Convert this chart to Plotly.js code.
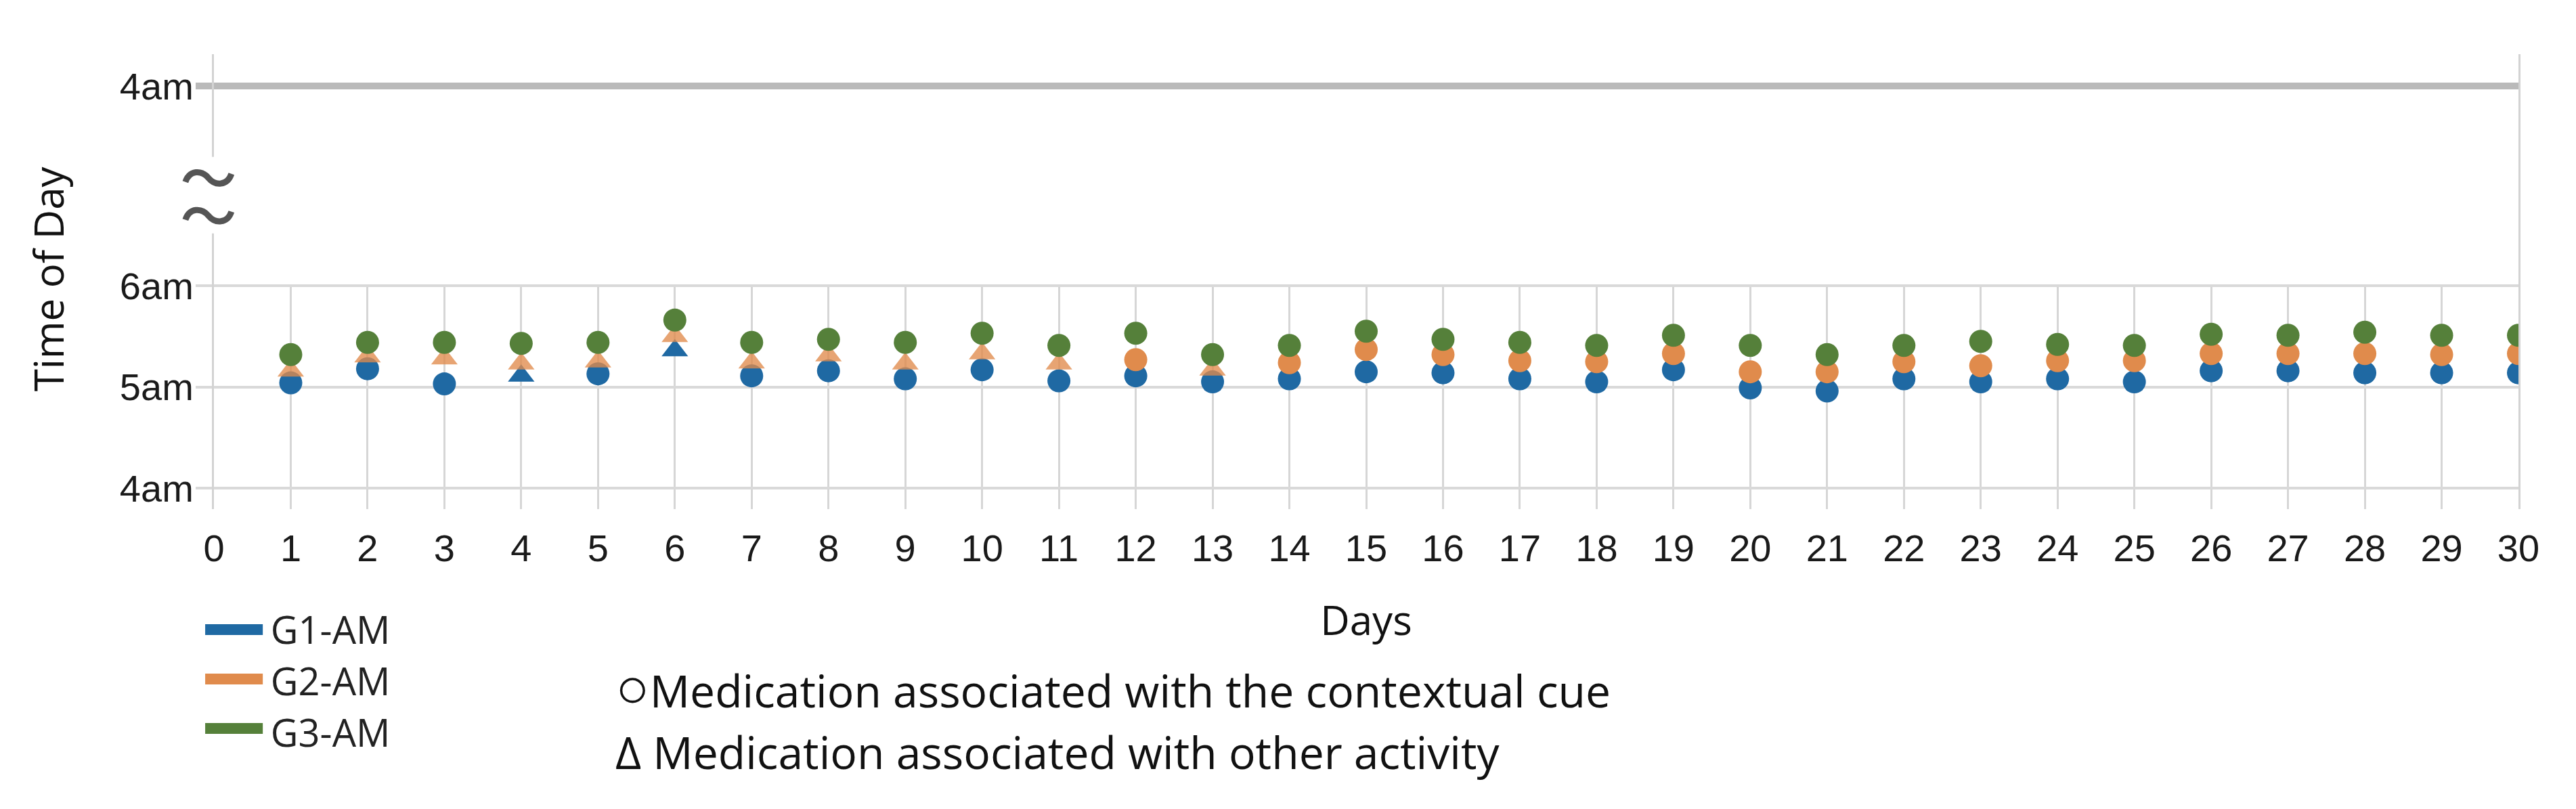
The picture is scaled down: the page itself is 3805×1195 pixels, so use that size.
<!DOCTYPE html>
<html>
<head>
<meta charset="utf-8">
<script src="https://cdn.plot.ly/plotly-3.0.1.min.js"></script>
<style>
  html, body { margin: 0; padding: 0; background: #ffffff; }
  #chart { width: 3805px; height: 1195px; }
</style>
</head>
<body>
<div id="chart"></div>
<script>
// ---- Data (time of day in decimal hours, 5.5 = 5:30am) ----
const days = [1,2,3,4,5,6,7,8,9,10,11,12,13,14,15,16,17,18,19,20,21,22,23,24,25,26,27,28,29,30];
const xTicks = [0,1,2,3,4,5,6,7,8,9,10,11,12,13,14,15,16,17,18,19,20,21,22,23,24,25,26,27,28,29,30];
const yTickVals = [4, 5, 6];
const yTickText = ['4am', '5am', '6am'];
const yTopTickVals = [8];
const yTopTickText = ['4am'];

const g1AM = [5.04,5.18,5.03,5.11,5.13,5.36,5.11,5.16,5.08,5.17,5.06,5.11,5.05,5.08,5.15,5.14,5.08,5.05,5.17,4.99,4.96,5.08,5.05,5.08,5.05,5.16,5.16,5.14,5.14,5.14];
const g2AM = [5.16,5.30,5.28,5.23,5.25,5.50,5.24,5.31,5.23,5.33,5.23,5.27,5.17,5.24,5.37,5.32,5.26,5.25,5.33,5.15,5.15,5.25,5.21,5.26,5.26,5.33,5.33,5.33,5.32,5.33];
const g3AM = [5.32,5.44,5.44,5.43,5.44,5.66,5.44,5.47,5.44,5.53,5.41,5.53,5.32,5.41,5.55,5.47,5.44,5.41,5.51,5.41,5.32,5.41,5.45,5.42,5.41,5.52,5.51,5.54,5.51,5.51];

// cue type per day: 'cue' = associated with the contextual cue, 'other' = associated with other activity
const g1Cue = ['cue','cue','cue','other','cue','other','cue','cue','cue','cue','cue','cue','cue','cue','cue','cue','cue','cue','cue','cue','cue','cue','cue','cue','cue','cue','cue','cue','cue','cue'];
const g2Cue = ['other','other','other','other','other','other','other','other','other','other','other','cue','other','cue','cue','cue','cue','cue','cue','cue','cue','cue','cue','cue','cue','cue','cue','cue','cue','cue'];
const g3Cue = ['cue','cue','cue','cue','cue','cue','cue','cue','cue','cue','cue','cue','cue','cue','cue','cue','cue','cue','cue','cue','cue','cue','cue','cue','cue','cue','cue','cue','cue','cue'];

const seriesNames = ['G1-AM', 'G2-AM', 'G3-AM'];
const seriesColors = ['#1f69a3', '#e08b4c', '#55803a'];

// ---- Build traces ----
const symbolFor = c => (c === 'other' ? 'triangle-up' : 'circle');
const seriesValues = [g1AM, g2AM, g3AM];
const seriesCues = [g1Cue, g2Cue, g3Cue];

const traces = [];
seriesValues.forEach((vals, i) => {
  traces.push({
    type: 'scatter', mode: 'markers',
    x: days, y: vals, xaxis: 'x', yaxis: 'y',
    name: seriesNames[i], showlegend: false,
    marker: {
      color: seriesColors[i],
      size: 34,
      symbol: seriesCues[i].map(symbolFor),
      opacity: seriesCues[i].map(c => (c === 'other' && i === 1) ? 0.78 : 1),
      line: { width: 0 }
    },
    hoverinfo: 'skip'
  });
});
// empty trace so the upper (broken-axis) panel is created
traces.push({ type: 'scatter', mode: 'markers', x: [null], y: [null], xaxis: 'x2', yaxis: 'y2',
  showlegend: false, hoverinfo: 'skip' });
// legend entries; their thick swatches are drawn as shapes below (legend line width is capped)
seriesNames.forEach((n, i) => {
  traces.push({
    type: 'scatter', mode: 'lines',
    x: [null], y: [null], xaxis: 'x', yaxis: 'y',
    name: n, showlegend: true,
    line: { color: 'rgba(0,0,0,0)', width: 16 }
  });
});

const tickFont = { family: 'Liberation Sans, Arial, sans-serif', size: 56, color: '#1a1a1a' };
const textFont = { family: 'Open Sans, sans-serif', size: 60, color: '#111111' };
const noteFont = { family: 'Open Sans, sans-serif', size: 66, color: '#111111' };

// tilde-shaped break mark, in pixels around its anchor
const breakMark = 'M -34 -6 C -28 12, -10 12, 0 0 C 10 -12, 28 -12, 34 6';

// thick legend swatches, one per series, beside the legend texts
const swatchRows = [-0.2649, -0.3735, -0.4821];
const swatchShapes = seriesColors.map((c, i) => ({
  type: 'line', xref: 'paper', yref: 'paper', x0: -0.0038, x1: 0.0212,
  y0: swatchRows[i], y1: swatchRows[i], line: { color: c, width: 16 }, layer: 'above'
}));

const layout = {
  width: 3805, height: 1195,
  paper_bgcolor: '#ffffff', plot_bgcolor: '#ffffff',
  margin: { l: 316, r: 85, t: 80, b: 443, pad: 0 },
  showlegend: true,
  xaxis: {
    domain: [0, 1], anchor: 'y', range: [0, 30],
    tickmode: 'array', tickvals: xTicks, ticktext: xTicks.map(String),
    showgrid: true, gridcolor: '#d6d6d6', gridwidth: 3,
    zeroline: false, showline: false, ticks: '',
    tickfont: tickFont, ticklabelstandoff: 20,
    title: { text: 'Days', font: textFont, standoff: 55 },
    automargin: false
  },
  xaxis2: {
    domain: [0, 1], anchor: 'y2', matches: 'x', range: [0, 30],
    showgrid: false, zeroline: false, showline: false, showticklabels: false, ticks: ''
  },
  yaxis: {
    domain: [0, 0.4933], anchor: 'x', range: [3.794, 6.01],
    tickmode: 'array', tickvals: yTickVals, ticktext: yTickText,
    showgrid: true, gridcolor: '#d9d9d9', gridwidth: 4,
    zeroline: false, ticks: 'outside', ticklen: 24, tickwidth: 4, tickcolor: '#d9d9d9',
    showline: true, mirror: true, linecolor: '#d3d3d3', linewidth: 3,
    tickfont: tickFont, ticklabelstandoff: -8, automargin: false
  },
  yaxis2: {
    domain: [0.4933, 1], anchor: 'x2', range: [6.05, 8.312],
    tickmode: 'array', tickvals: yTopTickVals, ticktext: yTopTickText,
    showgrid: true, gridcolor: '#bababa', gridwidth: 10,
    zeroline: false, ticks: 'outside', ticklen: 24, tickwidth: 10, tickcolor: '#bababa',
    showline: true, mirror: true, linecolor: '#d3d3d3', linewidth: 3,
    tickfont: tickFont, ticklabelstandoff: -8, automargin: false
  },
  legend: {
    x: -0.0018, xanchor: 'left', y: -0.2, yanchor: 'top',
    font: { family: 'Open Sans, sans-serif', size: 56, color: '#222222' },
    bgcolor: 'rgba(0,0,0,0)', itemwidth: 80, tracegroupgap: 0
  },
  shapes: [
    // gap in the left axis line for the axis break
    { type: 'rect', xref: 'paper', yref: 'paper', x0: -0.004, x1: 0.004, y0: 0.606, y1: 0.774,
      fillcolor: '#ffffff', line: { width: 0 }, layer: 'above' },
    { type: 'path', xref: 'paper', yref: 'paper', xsizemode: 'pixel', ysizemode: 'pixel',
      xanchor: -0.0024, yanchor: 0.728, path: breakMark,
      line: { color: '#555555', width: 9 }, layer: 'above' },
    { type: 'path', xref: 'paper', yref: 'paper', xsizemode: 'pixel', ysizemode: 'pixel',
      xanchor: -0.0024, yanchor: 0.645, path: breakMark,
      line: { color: '#555555', width: 9 }, layer: 'above' }
  ].concat(swatchShapes),
  annotations: [
    { text: 'Time of Day', xref: 'paper', yref: 'paper', x: -0.072, y: 0.507,
      textangle: -90, showarrow: false, xanchor: 'center', yanchor: 'middle', font: textFont },
    { text: '<span style="font-size:84px">○</span>Medication associated with the contextual cue', xref: 'paper', yref: 'paper',
      x: 0.1736, y: -0.387, showarrow: false, xanchor: 'left', yanchor: 'middle', font: noteFont },
    { text: 'Δ Medication associated with other activity', xref: 'paper', yref: 'paper',
      x: 0.1736, y: -0.532, showarrow: false, xanchor: 'left', yanchor: 'middle', font: noteFont }
  ]
};

Plotly.newPlot('chart', traces, layout, { staticPlot: true, displayModeBar: false });
</script>
</body>
</html>
